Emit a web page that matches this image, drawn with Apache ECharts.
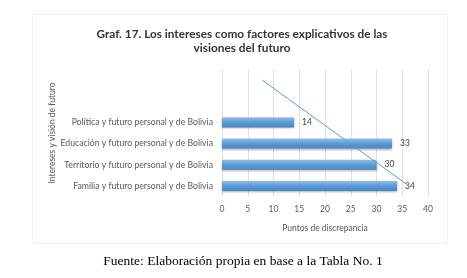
<!DOCTYPE html>
<html>
<head>
<meta charset="utf-8">
<script src="https://cdn.jsdelivr.net/npm/echarts@6/dist/echarts.min.js"></script>
<style>
    html, body { margin: 0; padding: 0; background: #fff; }
    #chart { width: 467px; height: 278px; }
</style>
</head>
<body>
<div id="chart"></div>
<script>
// categorias de abajo hacia arriba, dos vacias para el pronostico de la tendencia
const categories = [
    "Familia y futuro personal y de Bolivia",
    "Territorio y futuro personal y de Bolivia",
    "Educación y futuro personal y de Bolivia",
    "Política y futuro personal y de Bolivia",
    "",
    "",
];
const values = [34, 30, 33, 14];
// linea de tendencia: extremos [puntos, posicion]
const trendLine = [[36.3, 1], [7.8, 6]];

const font = "Lato";
const chart = echarts.init(document.getElementById("chart"));

const option = {
    animation: false,
    textStyle: { fontFamily: font },
    title: [
        {
            text: "Graf. 17. Los intereses como factores explicativos de las\nvisiones del futuro",
            left: 237,
            top: 22,
            textAlign: "center",
            textStyle: {
                fontFamily: font,
                fontSize: 11.8,
                fontWeight: "bold",
                color: "#333",
                lineHeight: 14,
            },
        },
        {
            text: "Fuente: Elaboración propia en base a la Tabla No. 1",
            left: 238,
            top: 249,
            textAlign: "center",
            textStyle: {
                fontFamily: "Liberation Serif",
                fontSize: 13.5,
                fontWeight: "normal",
                color: "#000",
            },
        },
    ],
    graphic: [
        {
            type: "rect",
            shape: { x: 32.5, y: 14.5, width: 415, height: 229 },
            style: { fill: "none", stroke: "#e3e3e3", lineWidth: 1, lineDash: [1, 1] },
            silent: true,
        },
    ],
    grid: {
        left: 222,
        right: 39,
        top: 69.5,
        bottom: 81.5,
    },
    xAxis: {
        type: "value",
        min: 0,
        max: 40,
        interval: 5,
        name: "Puntos de discrepancia",
        nameLocation: "middle",
        nameGap: 27,
        nameTextStyle: { fontSize: 8.5, color: "#595959" },
        axisLine: { show: false },
        axisTick: { show: false },
        axisLabel: { fontSize: 8.5, color: "#595959", margin: 8 },
        splitLine: { lineStyle: { color: "#e0e0e0", width: 1 } },
    },
    yAxis: [
        {
            type: "category",
            data: categories,
            name: "Intereses y visión de futuro",
            nameLocation: "middle",
            nameRotate: 90,
            nameGap: 163,
            nameTextStyle: { fontSize: 8.5, color: "#595959" },
            axisLine: { show: false },
            axisTick: { show: false },
            axisLabel: { fontSize: 8.7, color: "#595959", margin: 9 },
        },
        {
            type: "value",
            min: 0.5,
            max: 6.5,
            show: false,
        },
    ],
    series: [
        {
            type: "bar",
            data: values,
            barWidth: 10,
            itemStyle: {
                color: new echarts.graphic.LinearGradient(0, 0, 0, 1, [
                    { offset: 0, color: "#8fbde9" },
                    { offset: 0.5, color: "#5b9bd5" },
                    { offset: 1, color: "#4a87c2" },
                ]),
                shadowColor: "rgba(0,0,0,0.3)",
                shadowBlur: 2,
                shadowOffsetY: 1,
            },
            label: {
                show: true,
                position: "right",
                distance: 8,
                fontSize: 8.5,
                color: "#404040",
            },
        },
        {
            type: "line",
            yAxisIndex: 1,
            data: trendLine,
            showSymbol: false,
            silent: true,
            lineStyle: { color: "#5b9bd5", width: 1 },
        },
    ],
};

chart.setOption(option);
</script>
</body>
</html>
